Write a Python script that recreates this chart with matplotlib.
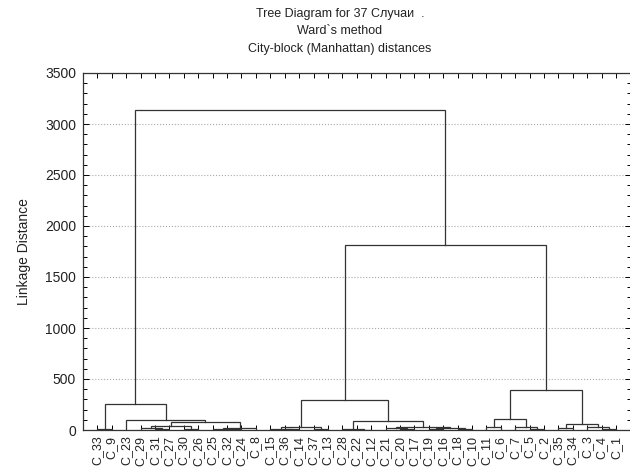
import matplotlib
matplotlib.use("Agg")
import matplotlib.pyplot as plt
from matplotlib.ticker import MultipleLocator

plt.rcParams['font.family'] = ['Liberation Sans', 'DejaVu Sans']

# leaves in the order they appear on the x axis
labels = ['C_33', 'C_9', 'C_23', 'C_29', 'C_31', 'C_27', 'C_30', 'C_26', 'C_25',
          'C_32', 'C_24', 'C_8', 'C_15', 'C_36', 'C_14', 'C_37', 'C_13', 'C_28',
          'C_22', 'C_12', 'C_21', 'C_20', 'C_17', 'C_19', 'C_16', 'C_18', 'C_10',
          'C_11', 'C_6', 'C_7', 'C_5', 'C_2', 'C_35', 'C_34', 'C_3', 'C_4', 'C_1']

# linkage: node ids 0..36 are leaves, merge k gets id 37 + k
merge_left = [0, 4, 3, 6, 39, 9, 8, 43, 41, 2, 37,
              13, 12, 15, 49, 18, 17, 21, 20, 23, 25, 56, 55, 53, 51,
              27, 30, 29, 62, 32, 35, 34, 66, 65, 61, 47]
merge_right = [1, 5, 38, 7, 40, 10, 42, 11, 44, 45, 46,
               14, 48, 16, 50, 19, 52, 22, 54, 24, 26, 57, 58, 59, 60,
               28, 31, 63, 64, 33, 36, 67, 68, 69, 70, 71]
merge_height = [7, 9, 18, 14, 38, 6, 12, 20, 78, 95, 255,
                8, 14, 12, 26, 4, 7, 10, 16, 9, 6, 20, 32, 91, 294,
                32, 7, 26, 105, 15, 12, 33, 59, 388, 1810, 3140]

fig = plt.figure(figsize=(6.3, 4.68), dpi=100)
ax = fig.add_axes([83 / 630, 1 - 430 / 468, (630.5 - 83) / 630, (430 - 73) / 468])

n = len(labels)
xpos = [i + 1.0 for i in range(n)]
ypos = [0.0] * n
line_col = '#333333'

for a, b, h in zip(merge_left, merge_right, merge_height):
    xa, xb = xpos[a], xpos[b]
    ax.plot([xa, xa, xb, xb], [ypos[a], h, h, ypos[b]], color=line_col,
            lw=0.9, solid_joinstyle='miter', zorder=3)
    xpos.append((xa + xb) / 2)
    ypos.append(h)

ax.set_xlim(0, n + 1)
ax.set_ylim(0, 3500)
ax.set_xticks(range(1, n + 1))
ax.set_xticklabels(labels, rotation=90, fontsize=9, color='#222222')
ax.yaxis.set_major_locator(MultipleLocator(500))
ax.yaxis.set_minor_locator(MultipleLocator(100))
ax.tick_params(axis='x', which='major', top=True, bottom=True, direction='in',
               length=3.5, width=0.7, pad=4)
ax.tick_params(axis='y', which='major', left=True, right=True, direction='in',
               length=4, width=0.7, labelsize=10, labelcolor='#222222', pad=5)
ax.tick_params(axis='y', which='minor', left=True, right=True, direction='in',
               length=3, width=0.7)
ax.grid(axis='y', which='major', linestyle=':', color='#aaaaaa', lw=0.8)
for s in ax.spines.values():
    s.set_linewidth(0.9)
    s.set_color('#333333')

ax.set_ylabel('Linkage Distance', fontsize=10, color='#222222', labelpad=10)

title_x = 340 / 630
fig.text(title_x, 1 - 14 / 468, 'Tree Diagram for 37 Случаи  .', ha='center',
         va='center', fontsize=9, color='#222222')
fig.text(title_x, 1 - 31 / 468, 'Ward`s method', ha='center',
         va='center', fontsize=9, color='#222222')
fig.text(title_x, 1 - 49 / 468, 'City-block (Manhattan) distances', ha='center',
         va='center', fontsize=9, color='#222222')

fig.savefig('out.png', dpi=100)
